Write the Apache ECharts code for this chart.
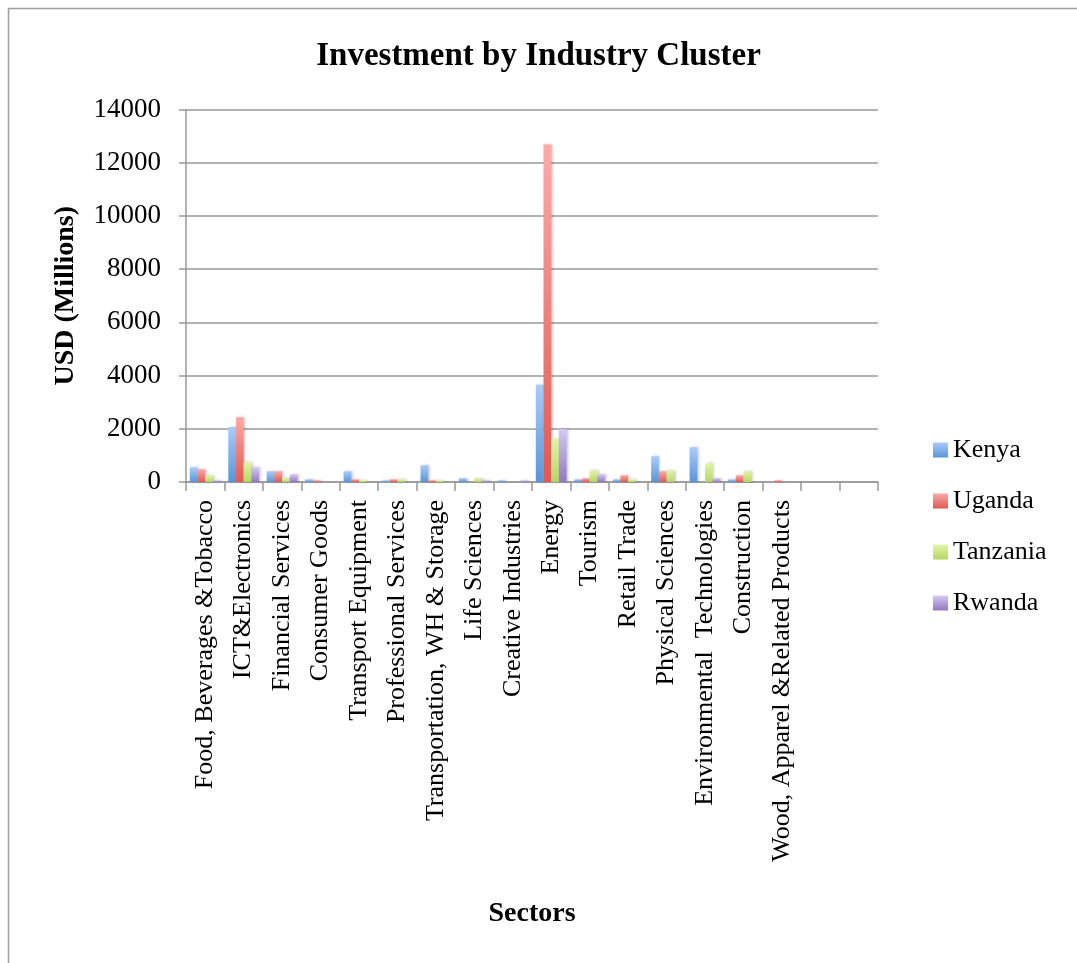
<!DOCTYPE html>
<html>
<head>
<meta charset="utf-8">
<title>Investment by Industry Cluster</title>
<script src="https://cdn.jsdelivr.net/npm/echarts@6/dist/echarts.min.js"></script>
<style>
  html, body { margin: 0; padding: 0; background: #fff; }
  #chart { width: 1077px; height: 963px; }
</style>
</head>
<body>
<div id="chart"></div>
<script>
// 行业类别（最后两个为空）
const sectors = ["Food, Beverages &Tobacco", "ICT&Electronics", "Financial Services", "Consumer Goods",
  "Transport Equipment", "Professional Services", "Transportation, WH & Storage", "Life Sciences",
  "Creative Industries", "Energy", "Tourism", "Retail Trade", "Physical Sciences",
  "Environmental  Technologies", "Construction", "Wood, Apparel &Related Products", "", ""];

const kenya    = [553, 2071, 402, 100, 402, 63, 628, 138, 63, 3658, 100, 100, 967, 1306, 100, 0, 0, 0];
const uganda   = [477, 2437, 402, 63, 100, 100, 63, 0, 0, 12680, 138, 251, 402, 0, 251, 63, 0, 0];
const tanzania = [251, 741, 151, 0, 63, 100, 63, 138, 0, 1628, 440, 100, 440, 703, 402, 0, 0, 0];
const rwanda   = [63, 553, 289, 0, 0, 0, 0, 63, 63, 1990, 289, 0, 0, 138, 0, 0, 0, 0];

const countries = ["Kenya", "Uganda", "Tanzania", "Rwanda"];
const yTicks = { min: 0, max: 14000, interval: 2000 };

const font = "Liberation Serif";

/*渐变色*/
function grad(top, bottom) {
  return new echarts.graphic.LinearGradient(0, 0, 0, 1, [
    { offset: 0, color: top },
    { offset: 1, color: bottom }
  ]);
}

const colors = [
  grad('#aacbfa', '#5896d8'),
  grad('#fbaaa8', '#e05a52'),
  grad('#e4f5a8', '#b4d664'),
  grad('#d6c8f2', '#9278c2')
];

let myChart = echarts.init(document.getElementById("chart"));

let seriesData = [kenya, uganda, tanzania, rwanda];
let series = [];
for (let i in countries) {
  series.push({
    name: countries[i],
    type: 'bar',
    data: seriesData[i],
    barGap: '0%',
    barCategoryGap: '20%',
    itemStyle: {
      color: colors[i],
      shadowColor: 'rgba(0,0,0,0.22)',
      shadowBlur: 3,
      shadowOffsetX: 1.5,
      shadowOffsetY: 0
    }
  });
}

let option = {
  backgroundColor: '#fff',
  animation: false,
  title: {
    text: 'Investment by Industry Cluster',
    left: 'center',
    top: 35,
    textStyle: { fontFamily: font, fontSize: 33, fontWeight: 'bold', color: '#000' }
  },
  legend: {
    orient: 'vertical',
    left: 928,
    top: 432,
    itemWidth: 15,
    itemHeight: 15,
    itemGap: 25,
    icon: 'rect',
    data: countries,
    textStyle: { fontFamily: font, fontSize: 26, color: '#000' }
  },
  grid: { left: 186, right: 199, top: 109.5, bottom: 481 },
  xAxis: {
    type: 'category',
    data: sectors,
    name: 'Sectors',
    nameLocation: 'middle',
    nameGap: 418,
    nameTextStyle: { fontFamily: font, fontSize: 28, fontWeight: 'bold', color: '#000' },
    axisLine: { show: true, lineStyle: { color: '#999', width: 1.5 } },
    axisTick: { show: true, interval: 0, length: 9, lineStyle: { color: '#999', width: 1.5 } },
    axisLabel: { interval: 0, rotate: 90, margin: 18, fontFamily: font, fontSize: 26, color: '#000' }
  },
  yAxis: {
    type: 'value',
    min: yTicks.min,
    max: yTicks.max,
    interval: yTicks.interval,
    name: 'USD (Millions)',
    nameLocation: 'middle',
    nameGap: 106,
    nameTextStyle: { fontFamily: font, fontSize: 28, fontWeight: 'bold', color: '#000' },
    axisLine: { show: true, lineStyle: { color: '#999', width: 1.5 } },
    axisTick: { show: true, length: 7, lineStyle: { color: '#999', width: 1.5 } },
    splitLine: { show: true, lineStyle: { color: '#999', width: 1.5 } },
    axisLabel: {
      margin: 25, fontFamily: font, fontSize: 27, color: '#000',
      formatter: function (v) { return String(v); }
    }
  },
  graphic: [{
    type: 'rect',
    shape: { x: 8.5, y: 8.5, width: 1200, height: 1200 },
    style: { fill: 'none', stroke: '#a0a0a0', lineWidth: 1.5 },
    silent: true
  }],
  series: series
};

myChart.setOption(option);
</script>
</body>
</html>
